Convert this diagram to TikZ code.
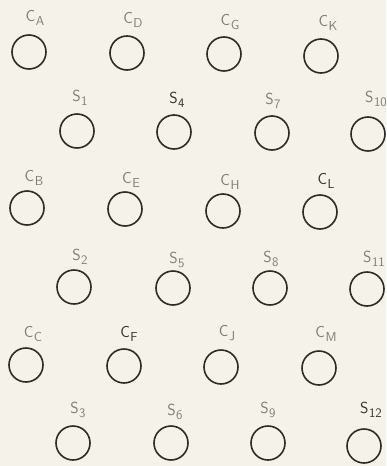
\documentclass[tikz,border=0pt]{standalone}
\definecolor{paper}{RGB}{245,243,233}
\definecolor{ink}{RGB}{45,45,40}
\definecolor{labgray}{RGB}{125,125,120}
\definecolor{labdarkc}{RGB}{50,50,45}
\newcommand{\lbl}[2]{#1\kern0.5pt\raisebox{-4.5pt}{\fontsize{13}{13}\selectfont #2}}
\begin{document}
\begin{tikzpicture}[x=1pt,y=-1pt,
  hole/.style={circle,draw=ink,line width=1.6pt,minimum size=34pt,inner sep=0pt},
  lab/.style={text=labgray,font=\sffamily\fontsize{16}{18}\selectfont,inner sep=0pt},
  labdark/.style={lab,text=labdarkc}]
\fill[paper] (0,0) rectangle (386,466);
\useasboundingbox (0,0) rectangle (386,466);
% row 1
\node[hole] (cA) at (29,52) {};  \node[lab] (lA) at (35,18) {\lbl{C}{A}};
\node[hole] (cD) at (127,53) {}; \node[lab] (lD) at (133,20) {\lbl{C}{D}};
\node[hole] (cG) at (224,54) {}; \node[lab] (lG) at (230,22) {\lbl{C}{G}};
\node[hole] (cK) at (321,56) {}; \node[lab] (lK) at (328,23) {\lbl{C}{K}};
% row 2
\node[hole] (s1) at (77,131) {};  \node[lab] (l1) at (80,98) {\lbl{S}{1}};
\node[hole] (s4) at (174,132) {}; \node[labdark] (l4) at (177,100) {\lbl{S}{4}};
\node[hole] (s7) at (272,133) {}; \node[lab] (l7) at (273,101) {\lbl{S}{7}};
\node[hole] (s10) at (368,134) {}; \node[lab] (l10) at (376,99) {\lbl{S}{10}};
% row 3
\node[hole] (cB) at (27,208) {};  \node[lab] (lB) at (34,178) {\lbl{C}{B}};
\node[hole] (cE) at (125,209) {}; \node[lab] (lE) at (131,180) {\lbl{C}{E}};
\node[hole] (cH) at (223,211) {}; \node[lab] (lH) at (230,182) {\lbl{C}{H}};
\node[hole] (cL) at (320,212) {}; \node[labdark] (lL) at (326,181) {\lbl{C}{L}};
% row 4
\node[hole] (s2) at (74,287) {};  \node[lab] (l2) at (80,257) {\lbl{S}{2}};
\node[hole] (s5) at (173,288) {}; \node[lab] (l5) at (177,260) {\lbl{S}{5}};
\node[hole] (s8) at (270,288) {}; \node[lab] (l8) at (271,259) {\lbl{S}{8}};
\node[hole] (s11) at (367,289) {}; \node[lab] (l11) at (374,259) {\lbl{S}{11}};
% row 5
\node[hole] (cC) at (26,365) {};  \node[lab] (lC) at (33,334) {\lbl{C}{C}};
\node[hole] (cF) at (124,366) {}; \node[labdark] (lF) at (129,334) {\lbl{C}{F}};
\node[hole] (cJ) at (221,367) {}; \node[lab] (lJ) at (227,333) {\lbl{C}{J}};
\node[hole] (cM) at (319,368) {}; \node[lab] (lM) at (326,334) {\lbl{C}{M}};
% row 6
\node[hole] (s3) at (73,443) {};  \node[lab] (l3) at (78,410) {\lbl{S}{3}};
\node[hole] (s6) at (171,443) {}; \node[lab] (l6) at (175,412) {\lbl{S}{6}};
\node[hole] (s9) at (268,443) {}; \node[lab] (l9) at (268,410) {\lbl{S}{9}};
\node[hole] (s12) at (364,446) {}; \node[labdark] (l12) at (371,410) {\lbl{S}{12}};
\end{tikzpicture}
\end{document}
